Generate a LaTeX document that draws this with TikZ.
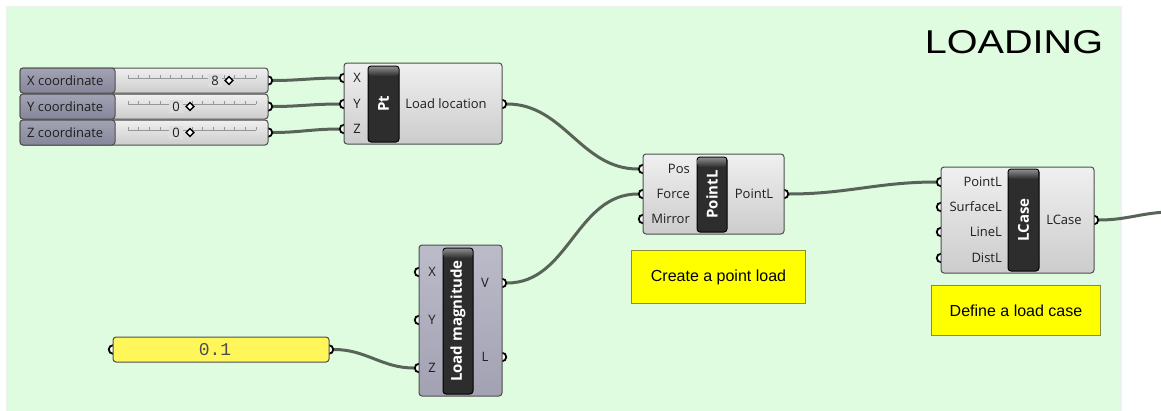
\documentclass[tikz,border=0pt]{standalone}
\usepackage{fontspec}
\setmainfont{Open Sans}
\newfontfamily\arialf{Liberation Sans}
\newfontfamily\monof{Liberation Mono}
\usetikzlibrary{shapes.geometric}
\pgfdeclarelayer{bglayer}
\pgfdeclarelayer{wirelayer}
\pgfdeclarelayer{portlayer}
\pgfsetlayers{bglayer,wirelayer,portlayer,main}
\definecolor{bggreen}{RGB}{224,252,224}
\definecolor{bgedge}{RGB}{234,244,234}
\definecolor{wirecol}{RGB}{88,100,88}
\definecolor{compedge}{RGB}{78,78,78}
\definecolor{slidlab}{RGB}{146,146,168}
\definecolor{magfill}{RGB}{170,170,188}
\definecolor{panelyel}{RGB}{255,246,90}
\definecolor{noteyel}{RGB}{255,255,0}
\definecolor{noteedge}{RGB}{140,140,60}
\definecolor{blk}{RGB}{45,45,45}
\definecolor{rulercol}{RGB}{150,150,150}
\begin{document}
\begin{tikzpicture}[x=1pt,y=-1pt,
  box/.style={draw=compedge, line width=1pt, rounded corners=3pt, anchor=north west, inner sep=0pt, outer sep=0pt},
  comp/.style={box, top color=white!94!black, bottom color=white!80!black},
  magbox/.style={box, top color=magfill!80!white, bottom color=magfill!95!black},
  blackbox/.style={box, draw=black, fill=blk},
  port/.style={circle, draw=black, fill=white, line width=1.8pt, inner sep=0pt, minimum size=8.5pt},
  wire/.style={draw=wirecol, line width=3pt, out=0, in=180},
  lbl/.style={font=\fontsize{13}{15}\selectfont, text=black!88, inner sep=0pt},
  tag/.style={font=\bfseries\fontsize{15}{16}\selectfont, text=white, rotate=90, inner sep=0pt},
  note/.style={draw=noteedge, fill=noteyel, line width=1pt, anchor=north west, inner sep=0pt},
  notetext/.style={font=\arialf\fontsize{16}{18}\selectfont, inner sep=0pt},
  dia/.style={diamond, draw=black, fill=white, line width=1.4pt, minimum size=8.5pt, inner sep=0pt}
]
\useasboundingbox (0,0) rectangle (1161,410);
\begin{pgfonlayer}{bglayer}
  \fill[bggreen] (7,7) rectangle (1121,412);
  \draw[bgedge, line width=1.5pt] (7,412) -- (7,7) -- (1121,7) -- (1121,412);
\end{pgfonlayer}

% ---------- sliders ----------
\foreach \nm/\tx/\vl/\vxx [count=\i from 0] in {x/X/8/215,y/Y/0/176,z/Z/0/176}{
  \pgfmathsetmacro\ty{68+26*\i}
  \pgfmathsetmacro\cy{\ty+12.5}
  \node[comp, minimum width=248pt, minimum height=25pt] (s\nm) at (20,\ty) {};
  \node[box, top color=slidlab!85!white, bottom color=slidlab!92!black, minimum width=95pt, minimum height=25pt] (slab\nm) at (20,\ty) {};
  \node[lbl, anchor=west] (stxt\nm) at (27,\cy) {\tx\ coordinate};
  \draw[rulercol, line width=0.6pt] (128,\cy-2.5) -- (256,\cy-2.5);
  \foreach \k in {0,...,12} \draw[rulercol, line width=0.6pt] (128+10.667*\k,\cy-2.5) -- ++(0,-3);
  \node[lbl, fill=white!87!black, inner xsep=3pt, inner ysep=2pt] (sval\nm) at (\vxx,\cy) {\vl};
  \node[dia] (sdia\nm) at (\vxx+14,\cy) {};
  \begin{pgfonlayer}{portlayer}
    \node[port] (sout\nm) at (268,\cy) {};
  \end{pgfonlayer}
}

% ---------- Pt component ----------
\node[comp, minimum width=158pt, minimum height=81pt] (pt) at (344,63) {};
\node[blackbox, minimum width=31pt, minimum height=76pt] (ptb) at (368,66) {};
\shade[top color=black!45, bottom color=blk, rounded corners=3pt] (368.5,66.5) rectangle (398.5,76);
\node[tag] (ptt) at (ptb.center) {Pt};
\node[lbl] (ptlx) at (357,78) {X};
\node[lbl] (ptly) at (357,104) {Y};
\node[lbl] (ptlz) at (357,129) {Z};
\node[lbl] (ptlo) at (446,104) {Load location};
\begin{pgfonlayer}{portlayer}
  \node[port] (ptx) at (344,78) {};
  \node[port] (pty) at (344,104) {};
  \node[port] (ptz) at (344,129) {};
  \node[port] (pto) at (502,104) {};
\end{pgfonlayer}

% ---------- PointL component ----------
\node[comp, minimum width=141pt, minimum height=80pt] (pl) at (643,154) {};
\node[blackbox, minimum width=30pt, minimum height=75pt] (plb) at (697,157) {};
\shade[top color=black!45, bottom color=blk, rounded corners=3pt] (697.5,157.5) rectangle (726.5,167);
\node[tag] (plt) at (plb.center) {PointL};
\node[lbl, anchor=east] (plpos) at (690,169) {Pos};
\node[lbl, anchor=east] (plforce) at (690,194) {Force};
\node[lbl, anchor=east] (plmirror) at (690,219) {Mirror};
\node[lbl] (plout) at (754,194) {PointL};
\begin{pgfonlayer}{portlayer}
  \node[port] (plin1) at (643,169) {};
  \node[port] (plin2) at (643,194) {};
  \node[port] (plin3) at (643,219) {};
  \node[port] (plo) at (784,194) {};
\end{pgfonlayer}

% ---------- LCase component ----------
\node[comp, minimum width=153pt, minimum height=106pt] (lc) at (941,167) {};
\node[blackbox, minimum width=31pt, minimum height=102pt] (lcb) at (1008,169) {};
\shade[top color=black!45, bottom color=blk, rounded corners=3pt] (1008.5,169.5) rectangle (1038.5,179);
\node[tag] (lct) at (lcb.center) {LCase};
\node[lbl, anchor=east] (lcp) at (1002,182) {PointL};
\node[lbl, anchor=east] (lcs) at (1002,207) {SurfaceL};
\node[lbl, anchor=east] (lcl) at (1002,232) {LineL};
\node[lbl, anchor=east] (lcd) at (1002,258) {DistL};
\node[lbl] (lcout) at (1064,220) {LCase};
\begin{pgfonlayer}{portlayer}
  \node[port] (lcin1) at (941,182) {};
  \node[port] (lcin2) at (941,207) {};
  \node[port] (lcin3) at (941,232) {};
  \node[port] (lcin4) at (941,258) {};
  \node[port] (lco) at (1094,220) {};
\end{pgfonlayer}
\coordinate (offedge) at (1172,212);

% ---------- Load magnitude ----------
\node[magbox, minimum width=83pt, minimum height=151pt] (lm) at (419,245) {};
\node[blackbox, minimum width=30pt, minimum height=146pt] (lmb) at (443,248) {};
\shade[top color=black!45, bottom color=blk, rounded corners=3pt] (443.5,248.5) rectangle (472.5,258);
\node[tag] (lmt) at (lmb.center) {Load magnitude};
\node[lbl] (lmx) at (432,272) {X};
\node[lbl] (lmy) at (432,320) {Y};
\node[lbl] (lmz) at (432,368) {Z};
\node[lbl] (lmv) at (485,283) {V};
\node[lbl] (lml) at (485,357) {L};
\begin{pgfonlayer}{portlayer}
  \node[port] (lmin1) at (419,272) {};
  \node[port] (lmin2) at (419,320) {};
  \node[port] (lmin3) at (419,368) {};
  \node[port] (lmov) at (502,283) {};
  \node[port] (lmol) at (502,357) {};
\end{pgfonlayer}

% ---------- panel ----------
\node[box, fill=panelyel, minimum width=216pt, minimum height=25pt] (pan) at (113,337) {};
\node[font=\monof\fontsize{18}{20}\selectfont, text=black!70, inner sep=0pt] (pantxt) at (215,350) {0.1};
\begin{pgfonlayer}{portlayer}
  \node[port] (panin) at (113,349.5) {};
  \node[port] (panout) at (329,349.5) {};
\end{pgfonlayer}

% ---------- notes ----------
\node[note, minimum width=174pt, minimum height=53pt] (note1) at (631,250) {};
\node[notetext] (note1t) at (note1.center) {Create a point load};
\node[note, minimum width=169pt, minimum height=50pt] (note2) at (931,285) {};
\node[notetext] (note2t) at (note2.center) {Define a load case};

% ---------- title ----------
\node[font=\arialf\fontsize{33}{36}\selectfont, inner sep=0pt] (title) at (1014,42) {\scalebox{1.2}[1]{LOADING}};

% ---------- wires ----------
\begin{pgfonlayer}{wirelayer}
  \draw[wire] (soutx) to (ptx);
  \draw[wire] (souty) to (pty);
  \draw[wire] (soutz) to (ptz);
  \draw[wire] (pto) to (plin1);
  \draw[wire] (lmov) to (plin2);
  \draw[wire] (panout) to (lmin3);
  \draw[wire] (plo) to (lcin1);
  \draw[wire] (lco) to (offedge);
\end{pgfonlayer}
\end{tikzpicture}
\end{document}
